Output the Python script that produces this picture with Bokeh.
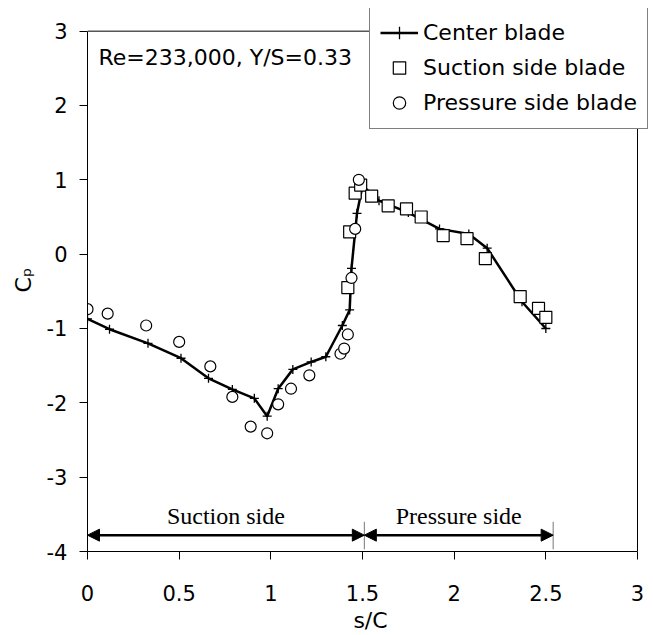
from bokeh.plotting import figure
from bokeh.models import (Range1d, FixedTicker, CustomJSTickFormatter, Legend, LegendItem,
                          Label, Arrow, NormalHead, ColumnDataSource)
from bokeh.core.properties import value
from bokeh.embed import file_html
from bokeh.resources import INLINE

# Center blade (line with + markers)
center_x = [0.0, 0.12, 0.33, 0.51, 0.66, 0.79, 0.91, 0.98, 1.04, 1.12, 1.22, 1.30,
            1.39, 1.43, 1.44, 1.47, 1.50, 1.59, 1.75, 1.92, 2.08, 2.18, 2.37, 2.50]
center_y = [-0.87, -1.01, -1.20, -1.40, -1.67, -1.82, -1.94, -2.18, -1.81, -1.55, -1.45, -1.38,
            -0.96, -0.75, -0.19, 0.55, 0.92, 0.72, 0.56, 0.34, 0.27, 0.08, -0.64, -1.00]

# Suction side blade (squares)
suction_x = [1.42, 1.43, 1.46, 1.49, 1.55, 1.64, 1.74, 1.82, 1.94, 2.07, 2.17, 2.36, 2.46, 2.50]
suction_y = [-0.45, 0.30, 0.82, 0.93, 0.78, 0.65, 0.61, 0.50, 0.25, 0.21, -0.06, -0.57, -0.73, -0.85]

# Pressure side blade (circles)
pressure_x = [0.0, 0.11, 0.32, 0.50, 0.67, 0.79, 0.89, 0.98, 1.04, 1.11, 1.21,
              1.38, 1.40, 1.42, 1.44, 1.46, 1.48]
pressure_y = [-0.74, -0.80, -0.96, -1.18, -1.51, -1.92, -2.32, -2.41, -2.02, -1.81, -1.63,
              -1.34, -1.27, -1.08, -0.32, 0.34, 1.00]

# Surface regions along s/C
side_names = ["Suction side", "Pressure side"]
side_start = [0.0, 1.51]
side_end = [1.51, 2.54]
side_bounds = [1.51, 2.54]
arrow_level = -3.78
side_label_level = -3.52
bound_top, bound_bottom = -3.60, -3.97

x_ticks = [0, 0.5, 1, 1.5, 2, 2.5, 3]
y_ticks = [-4, -3, -2, -1, 0, 1, 2, 3]
x_min, x_max = 0, 3
y_min, y_max = -4, 3
annotation = "Re=233,000, Y/S=0.33"

SANS = "DejaVu Sans"

# The frame is extended past the axes limits so that the legend (which
# overlaps the plot border in the reference) is not clipped.
W, H = 653, 635
left, right, top, bottom = 87, 637, 30.7, 552
x_end = x_max + (W - right) * (x_max - x_min) / (right - left)
top_border = 8
y_end = y_max + (top - top_border) * (y_max - y_min) / (bottom - top)

p = figure(width=W, height=H, output_backend="svg", toolbar_location=None,
           x_range=Range1d(x_min, x_end), y_range=Range1d(y_min, y_end),
           min_border_left=left, min_border_right=0, min_border_top=top_border,
           min_border_bottom=H - bottom)
p.background_fill_color = "white"
p.border_fill_color = "white"
p.outline_line_color = None
p.xgrid.visible = False
p.ygrid.visible = False

for ax, ticks, bnds in ((p.xaxis[0], x_ticks, (x_min, x_max)),
                        (p.yaxis[0], y_ticks, (y_min, y_max))):
    ax.ticker = FixedTicker(ticks=ticks)
    ax.bounds = bnds
    ax.formatter = CustomJSTickFormatter(code="return tick.toString()")
    ax.major_tick_out = 8
    ax.major_tick_in = 0
    ax.minor_tick_out = 0
    ax.minor_tick_in = 0
    ax.axis_line_color = "black"
    ax.major_tick_line_color = "black"
    ax.major_label_text_font = SANS
    ax.major_label_text_font_size = "21px"
    ax.major_label_text_color = "black"
    ax.axis_label_text_font = SANS
    ax.axis_label_text_font_size = "22px"
    ax.axis_label_text_font_style = "normal"
    ax.axis_label_text_color = "black"

p.xaxis.axis_label = "s/C"
p.yaxis.axis_label = "C\u209a"
p.xaxis.major_label_standoff = 25
p.yaxis.major_label_standoff = 12
p.xaxis.axis_label_standoff = 4
p.yaxis.axis_label_standoff = 8

# top and right plot border
p.segment(x0=[x_min, x_max], y0=[y_max, y_min], x1=[x_max, x_max], y1=[y_max, y_max],
          line_color="black", line_width=1)

line_r = p.line(center_x, center_y, line_color="black", line_width=2.5)
cross_r = p.scatter(center_x, center_y, marker="cross", size=9, line_color="black", line_width=1.3)
sq_r = p.scatter(suction_x, suction_y, marker="square", size=12, fill_color="white",
                 line_color="black", line_width=1.2)
ci_r = p.scatter(pressure_x, pressure_y, marker="circle", size=11, fill_color="white",
                 line_color="black", line_width=1.2)

# region arrows
arrow_src = ColumnDataSource(dict(x0=side_start, x1=side_end,
                                  y=[arrow_level] * len(side_start)))
p.add_layout(Arrow(source=arrow_src, x_start="x0", y_start="y", x_end="x1", y_end="y",
                   line_color="black", line_width=2.5,
                   start=NormalHead(size=12, fill_color="black", line_color="black"),
                   end=NormalHead(size=12, fill_color="black", line_color="black")))
p.segment(x0=side_bounds, y0=[bound_top] * 2, x1=side_bounds, y1=[bound_bottom] * 2,
          line_color="#777777", line_width=1)
mid_x = [(a + b) / 2 for a, b in zip(side_start, side_end)]
p.text(x=mid_x, y=[side_label_level] * 2, text=side_names,
       text_font=value("Liberation Serif"), text_font_size="24px",
       text_align="center", text_baseline="middle", text_color="black")

p.add_layout(Label(x=0.06, y=2.64, text=annotation, text_font=SANS, text_font_size="22px",
                   text_baseline="middle", text_color="black"))

legend = Legend(items=[LegendItem(label="Center blade", renderers=[line_r, cross_r]),
                       LegendItem(label="Suction side blade", renderers=[sq_r]),
                       LegendItem(label="Pressure side blade", renderers=[ci_r])],
                location=(282, 422))
legend.label_text_font = SANS
legend.label_text_font_size = "22px"
legend.label_text_color = "black"
legend.border_line_color = "black"
legend.border_line_width = 1
legend.background_fill_color = "white"
legend.background_fill_alpha = 1.0
legend.padding = 10
legend.spacing = 4
legend.margin = 0
legend.glyph_width = 38
legend.glyph_height = 31
legend.label_height = 31
legend.label_standoff = 5
p.add_layout(legend)

open("out.html", "w").write(file_html(p, INLINE))
